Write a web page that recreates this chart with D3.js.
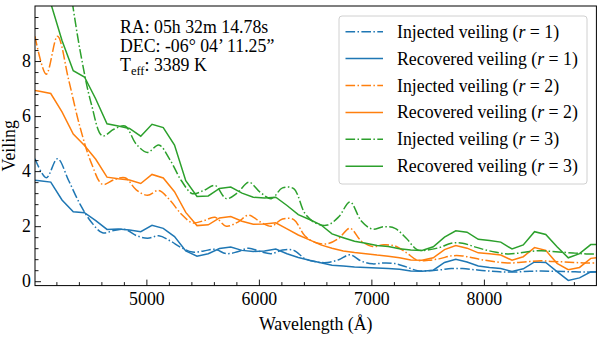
<!DOCTYPE html>
<html>
<head>
<meta charset="utf-8">
<script src="https://cdn.jsdelivr.net/npm/d3@7"></script>
<style>
  body { margin: 0; background: #fff; }
  text { font-family: "Liberation Serif", "Times New Roman", serif; }
</style>
</head>
<body>
<script>
const WIDTH = 598;
const HEIGHT = 342;
const FONT = 17.8;

// wavelength grids (Angstrom)
const injWave = [4010, 4110, 4210, 4310, 4410, 4510, 4610, 4710, 4810, 4910,
    5010, 5110, 5210, 5310, 5410, 5510, 5610, 5710, 5810, 5910,
    6010, 6110, 6210, 6310, 6410, 6510, 6610, 6710, 6810, 6910,
    7010, 7110, 7210, 7310, 7410, 7510, 7610, 7710, 7810, 7910,
    8010, 8110, 8210, 8310, 8410, 8510, 8610, 8710, 8810, 8910, 9000];
const recWave = [4010, 4050, 4150, 4250, 4350, 4450, 4550, 4650, 4750, 4850, 4950,
    5050, 5150, 5250, 5350, 5450, 5550, 5650, 5750, 5850, 5950,
    6050, 6150, 6250, 6350, 6450, 6550, 6650, 6750, 6850, 6950,
    7050, 7150, 7250, 7350, 7450, 7550, 7650, 7750, 7850, 7950,
    8050, 8150, 8250, 8350, 8450, 8550, 8650, 8750, 8850, 8950, 9000];

const injected1 = [4.45, 3.76, 4.45, 3.65, 2.8, 2.15, 1.76, 1.84, 1.88, 1.66,
    1.56, 1.65, 1.47, 1.22, 1.06, 1.1, 1.16, 1.0, 1.07, 1.2,
    1.08, 1.0, 1.13, 1.12, 0.82, 0.7, 0.68, 0.78, 0.96, 0.73,
    0.63, 0.66, 0.64, 0.52, 0.38, 0.38, 0.41, 0.46, 0.46, 0.42,
    0.38, 0.35, 0.33, 0.34, 0.36, 0.37, 0.36, 0.35, 0.34, 0.33, 0.33];
const injected2 = [8.9, 7.52, 8.9, 7.3, 5.6, 4.3, 3.52, 3.68, 3.76, 3.32,
    3.12, 3.3, 2.94, 2.44, 2.12, 2.2, 2.32, 2.0, 2.14, 2.4,
    2.16, 2.0, 2.26, 2.24, 1.64, 1.4, 1.36, 1.56, 1.92, 1.46,
    1.26, 1.32, 1.28, 1.04, 0.76, 0.76, 0.82, 0.92, 0.92, 0.84,
    0.76, 0.7, 0.66, 0.68, 0.72, 0.74, 0.72, 0.7, 0.68, 0.66, 0.66];
const injected3 = [13.35, 11.28, 13.35, 10.95, 8.4, 6.45, 5.28, 5.52, 5.64, 4.98,
    4.68, 4.95, 4.41, 3.66, 3.18, 3.3, 3.48, 3.0, 3.21, 3.6,
    3.24, 3.0, 3.39, 3.36, 2.46, 2.1, 2.04, 2.34, 2.88, 2.19,
    1.89, 1.98, 1.92, 1.56, 1.14, 1.14, 1.23, 1.38, 1.38, 1.26,
    1.14, 1.05, 0.99, 1.02, 1.08, 1.11, 1.08, 1.05, 1.02, 0.99, 0.99];

const recovered1 = [3.67, 3.65, 3.6, 2.95, 2.52, 2.49, 2.2, 1.88, 1.9, 1.86, 1.8,
    2.03, 1.92, 1.62, 1.1, 0.91, 1.0, 1.19, 1.24, 1.12, 1.08,
    1.1, 1.17, 1.0, 0.86, 0.76, 0.67, 0.58, 0.55, 0.52, 0.5,
    0.48, 0.46, 0.43, 0.37, 0.36, 0.4, 0.68, 0.8, 0.7, 0.55,
    0.5, 0.46, 0.35, 0.45, 0.7, 0.68, 0.35, 0.03, 0.12, 0.34, 0.34];
const recovered2 = [6.93, 6.9, 6.82, 6.15, 5.35, 4.93, 4.43, 3.78, 3.72, 3.68, 3.55,
    3.88, 3.75, 3.25, 2.5, 2.02, 2.05, 2.3, 2.35, 2.18, 2.07,
    2.08, 2.12, 1.9, 1.68, 1.5, 1.32, 1.2, 1.1, 1.04, 1.0,
    0.95, 0.91, 0.85, 0.77, 0.76, 0.85, 1.15, 1.3, 1.2, 1.03,
    1.0, 0.95, 0.76, 0.89, 1.22, 1.12, 0.65, 0.42, 0.5, 0.83, 0.85];
const recovered3 = [12.0, 11.5, 10.1, 8.75, 7.65, 7.42, 6.62, 5.72, 5.64, 5.55, 5.27,
    5.7, 5.58, 4.95, 3.65, 3.08, 3.1, 3.37, 3.42, 3.2, 3.05,
    3.02, 3.05, 2.75, 2.42, 2.24, 2.05, 1.72, 1.58, 1.45, 1.38,
    1.3, 1.26, 1.18, 1.13, 1.12, 1.25, 1.6, 1.83, 1.78, 1.52,
    1.48, 1.42, 1.17, 1.32, 1.8, 1.7, 1.25, 0.85, 1.0, 1.33, 1.33];

const xMajor = [5000, 6000, 7000, 8000];
const xMinor = [4200, 4400, 4600, 4800, 5200, 5400, 5600, 5800, 6200, 6400, 6600, 6800,
    7200, 7400, 7600, 7800, 8200, 8400, 8600, 8800];
const yMajor = [0, 2, 4, 6, 8];
const yMinor = [0.4, 0.8, 1.2, 1.6, 2.4, 2.8, 3.2, 3.6, 4.4, 4.8, 5.2, 5.6,
    6.4, 6.8, 7.2, 7.6, 8.4, 8.8, 9.2, 9.6];

const series = [
    { label: "Injected veiling", r: 1, wave: injWave, values: injected1, color: "#1f77b4", dashed: true },
    { label: "Recovered veiling", r: 1, wave: recWave, values: recovered1, color: "#1f77b4", dashed: false },
    { label: "Injected veiling", r: 2, wave: injWave, values: injected2, color: "#ff7f0e", dashed: true },
    { label: "Recovered veiling", r: 2, wave: recWave, values: recovered2, color: "#ff7f0e", dashed: false },
    { label: "Injected veiling", r: 3, wave: injWave, values: injected3, color: "#2ca02c", dashed: true },
    { label: "Recovered veiling", r: 3, wave: recWave, values: recovered3, color: "#2ca02c", dashed: false },
];

const PLOT = { left: 35, right: 596.4, top: 6, bottom: 285.6 };
const DASH = "9.6,2.4,1.5,2.4";

const x = d3.scaleLinear().domain([4010, 9000]).range([PLOT.left, PLOT.right]);
const y = d3.scaleLinear().domain([-0.16, 10.0]).range([PLOT.bottom, PLOT.top]);

const svg = d3.select("body").append("svg")
    .attr("width", WIDTH)
    .attr("height", HEIGHT);

svg.append("defs").append("clipPath").attr("id", "plotclip")
    .append("rect")
    .attr("x", PLOT.left).attr("y", PLOT.top)
    .attr("width", PLOT.right - PLOT.left).attr("height", PLOT.bottom - PLOT.top);

// lines
const lines = svg.append("g").attr("clip-path", "url(#plotclip)");
series.forEach(s => {
    const pts = s.wave.map((w, i) => [w, s.values[i]]);
    const gen = d3.line()
        .x(d => x(d[0]))
        .y(d => y(d[1]))
        .curve(s.dashed ? d3.curveCatmullRom : d3.curveLinear);
    lines.append("path")
        .attr("d", gen(pts))
        .attr("fill", "none")
        .attr("stroke", s.color)
        .attr("stroke-width", 1.5)
        .attr("stroke-dasharray", s.dashed ? DASH : null);
});

// axes with inward ticks
function styleAxis(g) {
    g.select(".domain").remove();
    g.selectAll("line").attr("stroke", "#000").attr("stroke-width", 0.9);
    g.selectAll("text").attr("font-size", FONT).attr("fill", "#000")
        .style("font-family", "'Liberation Serif', serif");
}

svg.append("g")
    .attr("transform", `translate(0,${PLOT.bottom})`)
    .call(d3.axisBottom(x).tickValues(xMajor).tickSize(-6).tickPadding(7).tickFormat(d3.format("d")))
    .call(styleAxis);
svg.append("g")
    .attr("transform", `translate(0,${PLOT.bottom})`)
    .call(d3.axisBottom(x).tickValues(xMinor).tickSize(-3.5).tickFormat(""))
    .call(styleAxis);
svg.append("g")
    .attr("transform", `translate(${PLOT.left},0)`)
    .call(d3.axisLeft(y).tickValues(yMajor).tickSize(-6).tickPadding(4))
    .call(styleAxis);
svg.append("g")
    .attr("transform", `translate(${PLOT.left},0)`)
    .call(d3.axisLeft(y).tickValues(yMinor).tickSize(-3.5).tickFormat(""))
    .call(styleAxis);

// frame
svg.append("rect")
    .attr("x", PLOT.left).attr("y", PLOT.top)
    .attr("width", PLOT.right - PLOT.left).attr("height", PLOT.bottom - PLOT.top)
    .attr("fill", "none").attr("stroke", "#000").attr("stroke-width", 1);

// axis labels
svg.append("text")
    .attr("x", (PLOT.left + PLOT.right) / 2).attr("y", 330)
    .attr("text-anchor", "middle").attr("font-size", FONT)
    .text("Wavelength (Å)");
svg.append("text")
    .attr("transform", `translate(15,${(PLOT.top + PLOT.bottom) / 2}) rotate(-90)`)
    .attr("text-anchor", "middle").attr("font-size", FONT)
    .text("Veiling");

// star info
const info = svg.append("g").attr("font-size", FONT);
info.append("text").attr("x", 120).attr("y", 33).text("RA: 05h 32m 14.78s");
info.append("text").attr("x", 120).attr("y", 52).text("DEC: -06° 04’ 11.25”");
const teff = info.append("text").attr("x", 120).attr("y", 71);
teff.append("tspan").text("T");
teff.append("tspan").attr("font-size", 12.5).attr("dy", 4).text("eff");
teff.append("tspan").attr("dy", -4).text(": 3389 K");

// legend
const legend = svg.append("g");
legend.append("rect")
    .attr("x", 339).attr("y", 16).attr("width", 248).attr("height", 168)
    .attr("rx", 3)
    .attr("fill", "#fff").attr("fill-opacity", 0.8)
    .attr("stroke", "#d0d0d0").attr("stroke-width", 1);
series.forEach((s, i) => {
    const cy = 31.7 + i * 26.9;
    legend.append("line")
        .attr("x1", 345.5).attr("x2", 383)
        .attr("y1", cy).attr("y2", cy)
        .attr("stroke", s.color).attr("stroke-width", 1.5)
        .attr("stroke-dasharray", s.dashed ? DASH : null);
    const t = legend.append("text")
        .attr("x", 397).attr("y", cy + 6)
        .attr("font-size", FONT);
    t.append("tspan").text(`${s.label} (`);
    t.append("tspan").attr("font-style", "italic").text("r");
    t.append("tspan").text(` = ${s.r})`);
});
</script>
</body>
</html>
